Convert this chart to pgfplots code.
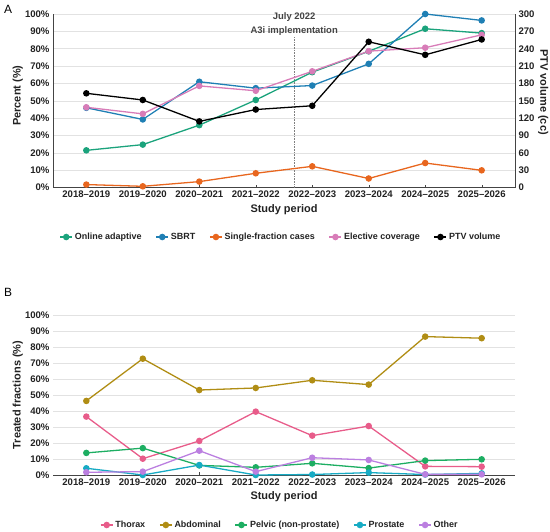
\documentclass[border=0pt]{standalone}
\usepackage{fontspec}
\setmainfont{Liberation Sans}
\usepackage{pgfplots}
\pgfplotsset{compat=1.18}
\definecolor{cOA}{HTML}{1BA37C}
\definecolor{cSB}{HTML}{1F7FB4}
\definecolor{cSF}{HTML}{E8661E}
\definecolor{cEC}{HTML}{D87CB8}
\definecolor{cTh}{HTML}{E85C8A}
\definecolor{cAb}{HTML}{B08D14}
\definecolor{cPe}{HTML}{1DAE62}
\definecolor{cPr}{HTML}{17ABC4}
\definecolor{cOt}{HTML}{BB7FE0}
\definecolor{axc}{HTML}{444444}
\definecolor{gridc}{HTML}{E2E2E2}
\definecolor{txt}{HTML}{222222}
\pgfplotsset{
  base/.style={
    scale only axis, width=462bp,
    xmin=-0.59, xmax=7.59,
    xtick={0,...,7},
    xticklabels={2018--2019,2019--2020,2020--2021,2021--2022,2022--2023,2023--2024,2024--2025,2025--2026},
    tick label style={font=\fontsize{9.6}{10}\selectfont\bfseries, text=txt},
    /pgf/number format/assume math mode=true,
    label style={font=\fontsize{11}{12}\selectfont\bfseries, text=txt},
    axis line style={axc, line width=0.8pt},
    major tick length=3bp,
    x tick style={axc},
    y tick style={draw=none},
    every axis plot/.append style={line width=1.3pt, mark=*, mark size=2.6bp},
    legend style={draw=none, fill=none, font=\fontsize{9}{10}\selectfont\bfseries, text=txt,
      /tikz/every even column/.append style={column sep=12bp}},
    legend columns=5,
    legend cell align=left,
    legend image code/.code={\draw[mark repeat=2,mark phase=2,#1] plot coordinates {(0bp,0bp) (6bp,0bp) (12bp,0bp)};},
  }
}
\begin{document}
\begin{tikzpicture}
\path[use as bounding box] (0bp,0bp) rectangle (550bp,532bp);
\node[font=\fontsize{12}{12}\selectfont, anchor=center] at (8bp,523bp) {A};
\node[font=\fontsize{12}{12}\selectfont, anchor=center] at (8bp,240bp) {B};
% ---------------- Panel A, left axis ----------------
\begin{axis}[base,
  at={(53bp,344.3bp)}, anchor=south west, height=173.7bp,
  ymin=0, ymax=100, ytick={0,10,...,100},
  yticklabel={\pgfmathprintnumber{\tick}\%},
  axis x line*=bottom, axis y line*=left,
  x axis line style={-}, y axis line style={-},
  xtick pos=bottom,
  ymajorgrids, grid style={gridc, line width=0.6pt},
  xlabel={Study period}, ylabel={Percent (\%)},
  xlabel style={at={(axis description cs:0.5,-0.127)}, anchor=center},
  ylabel style={at={(axis description cs:-0.076,0.53)}, anchor=center},
  legend style={at={(axis description cs:0.4935,-0.284)}, anchor=center},
  clip=false,
]
\draw[densely dotted, gray, line width=0.6pt] (axis cs:3.68,0) -- (axis cs:3.68,87);
\node[font=\fontsize{9.5}{10}\selectfont\bfseries, text=axc] at (axis cs:3.68,98.4) {July 2022};
\node[font=\fontsize{9.5}{10}\selectfont\bfseries, text=axc] at (axis cs:3.68,90.3) {A3i implementation};
\addplot[cOA, mark options={fill=cOA}] coordinates {(0,21.5) (1,24.8) (2,36) (3,50.5) (4,66.5) (5,78.5) (6,91.5) (7,89)};
\addlegendentry{Online adaptive}
\addplot[cSB, mark options={fill=cSB}] coordinates {(0,46) (1,39.3) (2,61) (3,57.3) (4,58.8) (5,71.3) (6,100) (7,96.3)};
\addlegendentry{SBRT}
\addplot[cSF, mark options={fill=cSF}] coordinates {(0,1.8) (1,0.8) (2,3.5) (3,8.3) (4,12.3) (5,5.3) (6,14.2) (7,10)};
\addlegendentry{Single-fraction cases}
\addplot[cEC, mark options={fill=cEC}] coordinates {(0,46.3) (1,42.5) (2,58.6) (3,55.8) (4,67) (5,78.6) (6,80.6) (7,88)};
\addlegendentry{Elective coverage}
\addlegendimage{black, mark=*, mark options={fill=black}, line width=1.3pt, mark size=2.6bp}
\addlegendentry{PTV volume}
\end{axis}
% ---------------- Panel A, right axis ----------------
\begin{axis}[base,
  at={(53bp,344.3bp)}, anchor=south west, height=173.7bp,
  ymin=0, ymax=300, ytick={0,30,...,300},
  axis x line=none, axis y line*=right, y axis line style={-},
  ylabel={PTV volume (cc)},
  every axis y label/.style={at={(axis description cs:1.061,0.55)}, anchor=center, rotate=-90,
    font=\fontsize{11}{12}\selectfont\bfseries, text=txt},
  clip=false,
]
\addplot[black, mark options={fill=black}] coordinates {(0,163) (1,151.5) (2,114.5) (3,135) (4,141.5) (5,252) (6,229.5) (7,256)};
\end{axis}
% ---------------- Panel B ----------------
\begin{axis}[base,
  at={(53bp,57bp)}, anchor=south west, height=160bp,
  ymin=0, ymax=100, ytick={0,10,...,100},
  yticklabel={\pgfmathprintnumber{\tick}\%},
  axis x line*=bottom, axis y line*=left,
  x axis line style={-}, y axis line style={draw=none},
  xtick pos=bottom,
  ymajorgrids, grid style={gridc, line width=0.6pt},
  xlabel={Study period}, ylabel={Treated fractions (\%)},
  xlabel style={at={(axis description cs:0.5,-0.1375)}, anchor=center},
  ylabel style={at={(axis description cs:-0.076,0.5)}, anchor=center},
  legend style={at={(axis description cs:0.491,-0.3125)}, anchor=center},
  clip=false,
]
\addplot[cTh, mark options={fill=cTh}] coordinates {(0,36.5) (1,10.2) (2,21.3) (3,39.6) (4,24.6) (5,30.6) (6,5.4) (7,5.2)};
\addlegendentry{Thorax}
\addplot[cAb, mark options={fill=cAb}] coordinates {(0,46.3) (1,72.7) (2,53.1) (3,54.4) (4,59.2) (5,56.5) (6,86.5) (7,85.5)};
\addlegendentry{Abdominal}
\addplot[cPe, mark options={fill=cPe}] coordinates {(0,13.8) (1,16.8) (2,6) (3,4.8) (4,7.3) (5,4.3) (6,9) (7,9.8)};
\addlegendentry{Pelvic (non-prostate)}
\addplot[cPr, mark options={fill=cPr}] coordinates {(0,4.2) (1,0) (2,6.2) (3,0) (4,0.3) (5,1.5) (6,0.3) (7,1)};
\addlegendentry{Prostate}
\addplot[cOt, mark options={fill=cOt}] coordinates {(0,1.7) (1,2.1) (2,15.2) (3,2.1) (4,10.8) (5,9.4) (6,0.4) (7,0.4)};
\addlegendentry{Other}
\end{axis}
\end{tikzpicture}
\end{document}
